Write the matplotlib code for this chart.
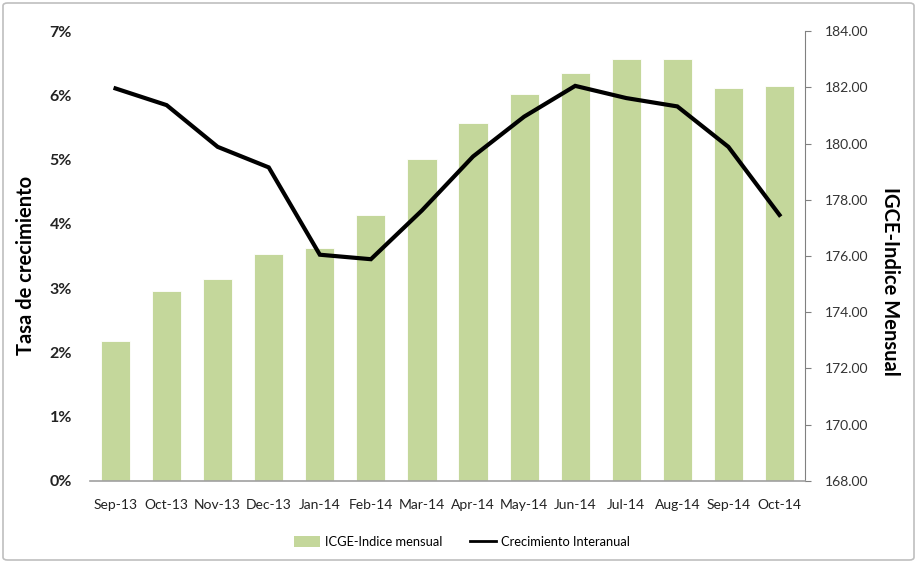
import matplotlib
matplotlib.use("Agg")
import matplotlib.pyplot as plt
from matplotlib.patches import FancyBboxPatch
from matplotlib.lines import Line2D
from matplotlib.patches import Patch
import numpy as np

plt.rcParams['font.family'] = ['Lato', 'DejaVu Sans']

months = ["Sep-13", "Oct-13", "Nov-13", "Dec-13", "Jan-14", "Feb-14", "Mar-14",
          "Apr-14", "May-14", "Jun-14", "Jul-14", "Aug-14", "Sep-14", "Oct-14"]
indice = [172.98, 174.76, 175.19, 176.08, 176.27, 177.47, 179.47,
          180.75, 181.75, 182.50, 183.00, 183.00, 181.99, 182.04]
crecimiento = [6.11, 5.85, 5.20, 4.88, 3.52, 3.45, 4.21,
               5.05, 5.67, 6.15, 5.96, 5.83, 5.20, 4.14]

W, H = 917, 563
fig = plt.figure(figsize=(W/100, H/100), dpi=100)
fig.patches.append(FancyBboxPatch((3/W, 3/H), 1-6/W, 1-6/H, boxstyle="round,pad=0,rounding_size=0.005",
                                  transform=fig.transFigure, fill=False, edgecolor="#BFBFBF", lw=1.2))

x0, x1 = 90/W, 805/W
y0, y1 = 1-480.7/H, 1-31.3/H
ax = fig.add_axes([x0, y0, x1-x0, y1-y0])
ax2 = ax.twinx()

x = np.arange(len(months))
# bars on right axis
ax2.bar(x, [v - 168 for v in indice], bottom=168, width=0.57, color="#C4D79B",
        edgecolor="white", linewidth=0.6, zorder=1)
ax2.set_ylim(168, 184)
ax2.set_yticks(np.arange(168, 185, 2))
ax2.set_yticklabels([f"{v:.2f}" for v in np.arange(168, 185, 2)], fontsize=10, color="#333333")
ax2.tick_params(axis='y', direction='out', length=4, color="#808080", pad=10)

# line on left axis, drawn above bars
ax.set_zorder(ax2.get_zorder() + 1)
ax.patch.set_visible(False)
ax.plot(x, crecimiento, color="black", lw=3, solid_joinstyle='miter', zorder=3)
ax.set_ylim(0, 7)
ax.set_yticks(range(0, 8))
ax.set_yticklabels([f"{v}%" for v in range(0, 8)], fontsize=11.5, fontweight='bold', color="#222222")
ax.tick_params(axis='y', length=0, pad=13)
ax.set_xlim(-0.5, len(months)-0.5)
ax.set_xticks(x)
ax.set_xticklabels(months, fontsize=10, color="#222222")
ax.tick_params(axis='x', length=0, pad=13)

for a in (ax, ax2):
    a.spines['top'].set_visible(False)
    a.spines['left'].set_visible(False)
    a.spines['right'].set_visible(False)
    a.spines['bottom'].set_visible(False)
ax2.spines['right'].set_visible(True)
ax2.spines['right'].set_color("#808080")
ax.spines['bottom'].set_visible(True)
ax.spines['bottom'].set_color("#A0A0A0")
ax.spines['bottom'].set_linewidth(1.2)

ax.set_ylabel("Tasa de crecimiento", fontsize=14.5, fontweight='bold')
ax.yaxis.set_label_coords(-54/715, 0.478)
ax2.set_ylabel("IGCE-Indice Mensual", fontsize=14.5, fontweight='bold', rotation=270)
ax2.yaxis.set_label_coords(1 + 95/715, 0.444)

handles = [Patch(facecolor="#C4D79B", edgecolor="none"),
           Line2D([0], [0], color="black", lw=2)]
fig.legend(handles, ["ICGE-Indice mensual", "Crecimiento Interanual"], loc='center',
           bbox_to_anchor=(462/W, 1-542/H), ncol=2, frameon=False, fontsize=9.3,
           handlelength=2.0, handleheight=0.9, columnspacing=2.2, handletextpad=0.35)

fig.savefig("out.png", dpi=100)
